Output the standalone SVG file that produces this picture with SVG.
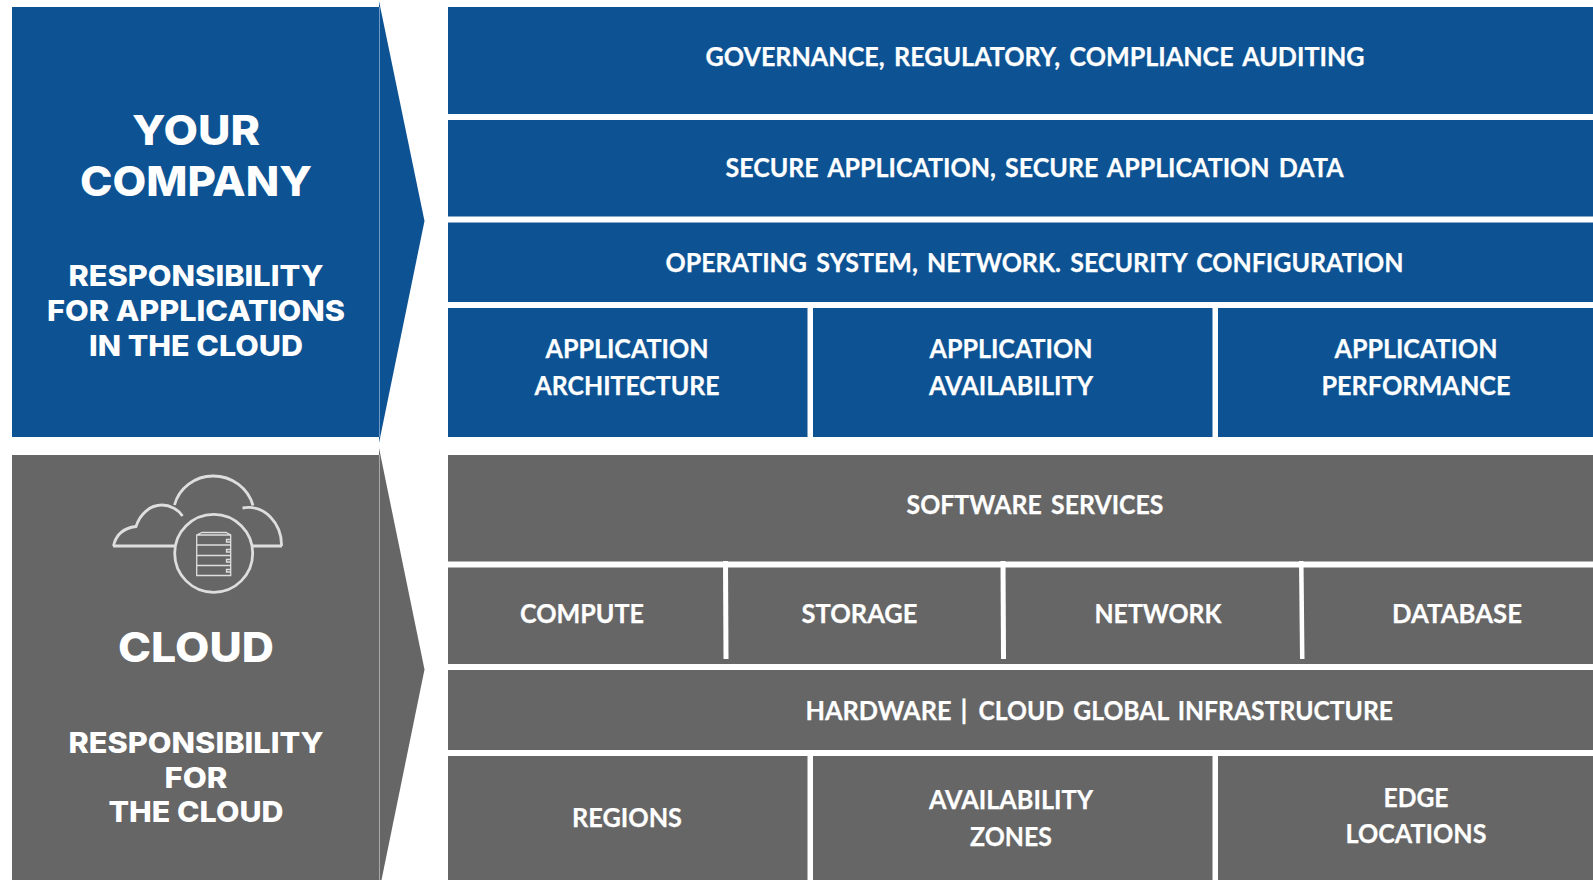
<svg xmlns="http://www.w3.org/2000/svg" width="1593" height="880" viewBox="0 0 1593 880">
<style>
.b{fill:#0d5394}.g{fill:#666666}
text{fill:#ffffff;text-anchor:middle}
.r{font-family:"Lato","Open Sans",sans-serif;font-weight:700;font-size:26.5px;word-spacing:3.5px;stroke:#ffffff;stroke-width:.25px}
.h{font-family:"Inter","Liberation Sans",sans-serif;font-weight:800;font-size:41px}
.s{font-family:"Inter","Liberation Sans",sans-serif;font-weight:800;font-size:29px}
.d{fill:#ffffff}
.i{fill:none;stroke:#dedede;stroke-width:2.8}
.t{fill:none;stroke:#dedede;stroke-width:1.3}
</style>
<rect width="1593" height="880" fill="#ffffff"/>
<g id="your-company">
<rect class="b" x="12" y="7" width="368" height="430"/>
<polygon class="b" points="379,1 424.500,221 379,443"/>
<line x1="379.5" y1="7" x2="379.5" y2="437" stroke="#6f9ac8" stroke-width="1"/>
<text class="h" x="196" y="145" textLength="128" lengthAdjust="spacingAndGlyphs">YOUR</text>
<text class="h" x="196" y="196" textLength="232" lengthAdjust="spacingAndGlyphs">COMPANY</text>
<text class="s" x="196" y="285.5" textLength="255" lengthAdjust="spacingAndGlyphs">RESPONSIBILITY</text>
<text class="s" x="196" y="320.5" textLength="298" lengthAdjust="spacingAndGlyphs">FOR APPLICATIONS</text>
<text class="s" x="196" y="356" textLength="214" lengthAdjust="spacingAndGlyphs">IN THE CLOUD</text>
</g>
<g id="cloud">
<rect class="g" x="12" y="455" width="368" height="425"/>
<polygon class="g" points="379,448 424.500,669.500 381.500,880 379,880"/>
<line x1="379.5" y1="455" x2="379.5" y2="880" stroke="#a8a8a8" stroke-width="1"/>
<g id="cloud-icon">
<path class="i" d="M113.500 546 C116 534 124 528 136 526.500 C140 514 150 505 162 505 C170 505 179 510 182.500 516"/>
<path class="i" d="M174.500 505 C179 488 195 476 213 476 C232 476 248 488 253 505.500"/>
<path class="i" d="M242.500 508 C265 504 282 524 281.500 546"/>
<path class="i" d="M113 546 H175 M253 546 H282"/>
<circle class="i" cx="213.700" cy="553.300" r="39"/>
<path class="t" d="M196.700 535 L202 532.500 H226 L230.700 535 V575.500 H196.700 Z M196.700 535 H230.700 M196.700 545 H230.700 M196.700 555.500 H230.700 M196.700 565.500 H230.700"/>
<path class="t" d="M230.700 539.500 H226.500 V542 H230.700 M230.700 549.500 H226.500 V552 H230.700 M230.700 559.500 H226.500 V562 H230.700 M230.700 569.500 H226.500 V572 H230.700"/>
</g>
<text class="h" x="196" y="662" textLength="156" lengthAdjust="spacingAndGlyphs">CLOUD</text>
<text class="s" x="196" y="752.500" textLength="255" lengthAdjust="spacingAndGlyphs">RESPONSIBILITY</text>
<text class="s" x="196" y="787.500" textLength="63" lengthAdjust="spacingAndGlyphs">FOR</text>
<text class="s" x="196" y="821.500" textLength="175" lengthAdjust="spacingAndGlyphs">THE CLOUD</text>
</g>
<g id="governance"><rect class="b" x="448" y="7" width="1145" height="107"/>
<text class="r" x="1035" y="66" textLength="659" lengthAdjust="spacingAndGlyphs">GOVERNANCE, REGULATORY, COMPLIANCE AUDITING</text></g>
<g id="secure-application"><rect class="b" x="448" y="120" width="1145" height="96.500"/>
<text class="r" x="1034.500" y="177" textLength="618" lengthAdjust="spacingAndGlyphs">SECURE APPLICATION, SECURE APPLICATION DATA</text></g>
<g id="operating-system"><rect class="b" x="448" y="222.500" width="1145" height="79.500"/>
<text class="r" x="1034.500" y="272" textLength="738" lengthAdjust="spacingAndGlyphs">OPERATING SYSTEM, NETWORK. SECURITY CONFIGURATION</text></g>
<g id="application-architecture"><rect class="b" x="448" y="308" width="359.500" height="129"/>
<text class="r" x="627" y="358" textLength="163" lengthAdjust="spacingAndGlyphs">APPLICATION</text>
<text class="r" x="627" y="395" textLength="185" lengthAdjust="spacingAndGlyphs">ARCHITECTURE</text></g>
<g id="application-availability"><rect class="b" x="813" y="308" width="399.500" height="129"/>
<text class="r" x="1011" y="358" textLength="163" lengthAdjust="spacingAndGlyphs">APPLICATION</text>
<text class="r" x="1011" y="395" textLength="164" lengthAdjust="spacingAndGlyphs">AVAILABILITY</text></g>
<g id="application-performance"><rect class="b" x="1218" y="308" width="375" height="129"/>
<text class="r" x="1416" y="358" textLength="163" lengthAdjust="spacingAndGlyphs">APPLICATION</text>
<text class="r" x="1416" y="395" textLength="189" lengthAdjust="spacingAndGlyphs">PERFORMANCE</text></g>
<g id="software-services"><rect class="g" x="448" y="455" width="1145" height="106.500"/>
<text class="r" x="1035" y="514" textLength="257" lengthAdjust="spacingAndGlyphs">SOFTWARE SERVICES</text></g>
<rect class="g" x="448" y="567.500" width="1145" height="96.500"/>
<g id="compute">
<text class="r" x="582" y="623" textLength="124" lengthAdjust="spacingAndGlyphs">COMPUTE</text></g>
<g id="storage">
<text class="r" x="859.500" y="623" textLength="116" lengthAdjust="spacingAndGlyphs">STORAGE</text></g>
<g id="network">
<text class="r" x="1158" y="623" textLength="127" lengthAdjust="spacingAndGlyphs">NETWORK</text></g>
<g id="database">
<text class="r" x="1457" y="623" textLength="130" lengthAdjust="spacingAndGlyphs">DATABASE</text></g>
<g id="hardware"><rect class="g" x="448" y="670" width="1145" height="80"/>
<text class="r" y="720" style="text-anchor:start"><tspan x="805.500" textLength="146" lengthAdjust="spacingAndGlyphs">HARDWARE</tspan><tspan x="960.500">|</tspan><tspan x="978.500" textLength="414.500" lengthAdjust="spacingAndGlyphs">CLOUD GLOBAL INFRASTRUCTURE</tspan></text></g>
<g id="regions"><rect class="g" x="448" y="756" width="359.500" height="124"/>
<text class="r" x="627" y="827" textLength="110" lengthAdjust="spacingAndGlyphs">REGIONS</text></g>
<g id="availability-zones"><rect class="g" x="813" y="756" width="399.500" height="124"/>
<text class="r" x="1011" y="809" textLength="164" lengthAdjust="spacingAndGlyphs">AVAILABILITY</text>
<text class="r" x="1011" y="846" textLength="82" lengthAdjust="spacingAndGlyphs">ZONES</text></g>
<g id="edge-locations"><rect class="g" x="1218" y="756" width="375" height="124"/>
<text class="r" x="1416" y="806.500" textLength="65" lengthAdjust="spacingAndGlyphs">EDGE</text>
<text class="r" x="1416" y="843" textLength="141" lengthAdjust="spacingAndGlyphs">LOCATIONS</text></g>
<g id="connectors">
<polygon class="d" points="723,561 728,561 728.500,659 723.500,659"/>
<polygon class="d" points="1000.500,561 1005.500,561 1006,659 1001,659"/>
<polygon class="d" points="1299,561 1303.500,561 1304.500,659 1300,659"/>
</g>
</svg>
